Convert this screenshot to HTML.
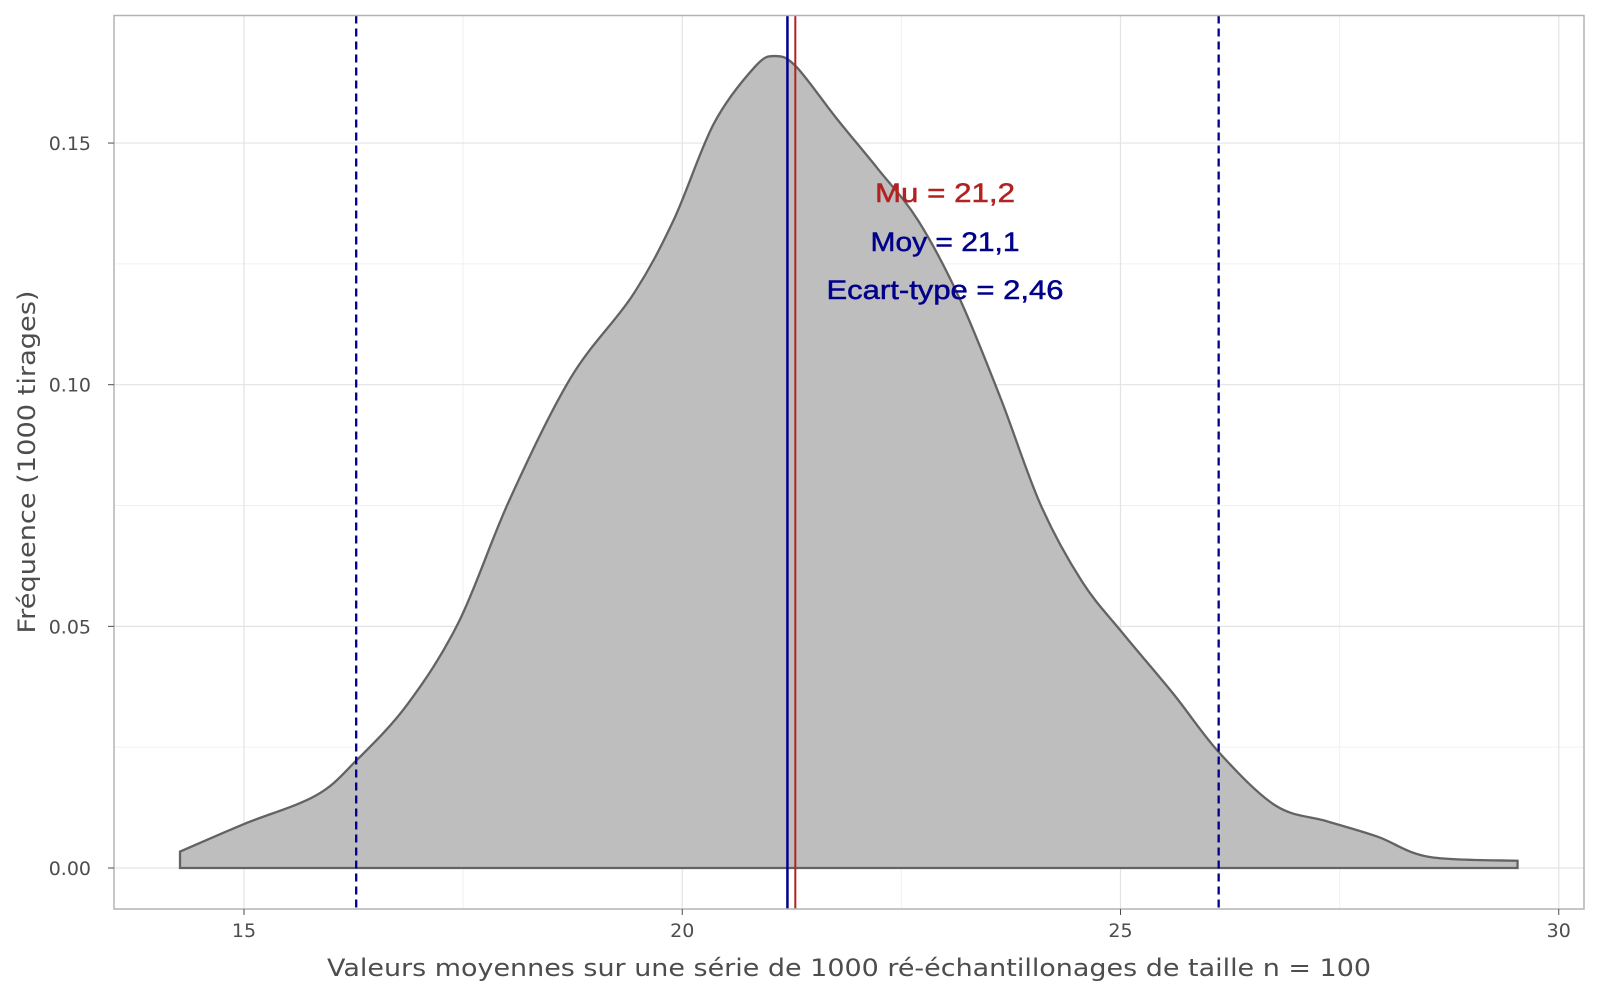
<!DOCTYPE html>
<html><head><meta charset="utf-8"><style>
body{margin:0;background:#fff;}
svg text{font-family:"DejaVu Sans","Liberation Sans",sans-serif;}
</style></head><body>
<svg id="chart" width="1600" height="1000" xmlns="http://www.w3.org/2000/svg">
<rect width="1600" height="1000" fill="#fff"/>
<g id="grid"></g>
<g id="marks"></g>
<g id="axes"></g>
</svg>
<script>
const xs=[14.27,15,15.82,16.29,16.87,17.45,18.03,18.73,19.43,19.9,20.36,20.83,21.06,21.3,21.76,22.23,22.69,23.16,23.63,24.09,24.56,25.02,25.6,26.13,26.77,27.35,27.93,28.52,29.53];
const ys=[0.0034,0.0091,0.015,0.0224,0.034,0.0509,0.0762,0.1015,0.1184,0.134,0.154,0.1658,0.168,0.1658,0.1551,0.1447,0.134,0.118,0.0973,0.0751,0.0593,0.0487,0.0361,0.0238,0.0129,0.0097,0.0065,0.0023,0.0015];
const xTicks=[15,20,25,30];
const yTicks=[0,0.05,0.10,0.15];
const yTickLabels=["0.00","0.05","0.10","0.15"];
const ciLines=[16.28,26.12];
const meanLine=[21.2];
const muLine=[21.29];
const labels=["Mu = 21,2","Moy = 21,1","Ecart-type = 2,46"];
const X=v=>244+(v-15)*87.65, Y=v=>868-v*4833;
const NS="http://www.w3.org/2000/svg";
function el(p,t,a){const e=document.createElementNS(NS,t);for(const k in a)e.setAttribute(k,a[k]);p.appendChild(e);return e;}
const grid=document.getElementById('grid'),marks=document.getElementById('marks'),axes=document.getElementById('axes');
const L=114,R=1584,T=15.5,B=909;
[17.5,22.5,27.5].forEach(v=>el(grid,'line',{x1:X(v),x2:X(v),y1:T,y2:B,stroke:'#f0f0f0','stroke-width':1}));
[0.025,0.075,0.125].forEach(v=>el(grid,'line',{x1:L,x2:R,y1:Y(v),y2:Y(v),stroke:'#f0f0f0','stroke-width':1}));
xTicks.forEach(v=>{const g=el(grid,'line',{x1:X(v),x2:X(v),y1:T,y2:B,stroke:'#e3e3e3','stroke-width':1.2});
});
yTicks.forEach(v=>{const g=el(grid,'line',{x1:L,x2:R,y1:Y(v),y2:Y(v),stroke:'#e3e3e3','stroke-width':1.2});
});
const P=xs.map((x,i)=>[X(x),Y(ys[i])]);
let d=`M${X(xs[0])},${Y(0)} L${P[0][0]},${P[0][1]}`;
for(let i=0;i<P.length-1;i++){const p0=P[Math.max(0,i-1)],p1=P[i],p2=P[i+1],p3=P[Math.min(P.length-1,i+2)];
d+=` C${p1[0]+(p2[0]-p0[0])/6},${p1[1]+(p2[1]-p0[1])/6} ${p2[0]-(p3[0]-p1[0])/6},${p2[1]-(p3[1]-p1[1])/6} ${p2[0]},${p2[1]}`;}
d+=` L${X(xs[xs.length-1])},${Y(0)} Z`;
const area=el(marks,'path',{d:d,fill:'#bebebe',stroke:'#636363','stroke-width':2.3});


ciLines.forEach(v=>{const l=el(marks,'line',{x1:X(v),x2:X(v),y1:T,y2:B,stroke:'#00008b','stroke-width':2.3,'stroke-dasharray':'8,5'});
});
meanLine.forEach(v=>{const l=el(marks,'line',{x1:X(v),x2:X(v),y1:T,y2:B,stroke:'#00008b','stroke-width':2.5});
});
muLine.forEach(v=>{const l=el(marks,'line',{x1:X(v),x2:X(v),y1:T,y2:B,stroke:'#b22222','stroke-width':2});
});
const cols=['#b22222','#00008b','#00008b'],ly=[202,251,299],lw=[140,149,237];
labels.forEach((s,i)=>{const t=el(marks,'text',{x:945,y:ly[i],'text-anchor':'middle','font-size':27,fill:cols[i],stroke:cols[i],'stroke-width':0.5,textLength:lw[i],lengthAdjust:'spacingAndGlyphs',style:'font-family:"Liberation Sans",sans-serif'});t.textContent=s;
});
el(axes,'rect',{x:L,y:T,width:R-L,height:B-T,fill:'none',stroke:'#b3b3b3','stroke-width':1.5});
xTicks.forEach(v=>{el(axes,'line',{x1:X(v),x2:X(v),y1:B,y2:B+6,stroke:'#4d4d4d','stroke-width':1});
const t=el(axes,'text',{x:X(v),y:937,'text-anchor':'middle','font-size':19,fill:'#4d4d4d'});t.textContent=v;
});
yTicks.forEach((v,i)=>{el(axes,'line',{x1:L-6,x2:L,y1:Y(v),y2:Y(v),stroke:'#4d4d4d','stroke-width':1});
const t=el(axes,'text',{x:91,y:Y(v)+7,'text-anchor':'end','font-size':19,fill:'#4d4d4d'});t.textContent=yTickLabels[i];
});
const xt=el(axes,'text',{x:849,y:976,'text-anchor':'middle','font-size':24,fill:'#4d4d4d',textLength:1044,lengthAdjust:'spacingAndGlyphs'});xt.textContent='Valeurs moyennes sur une série de 1000 ré-échantillonages de taille n = 100';

const yt=el(axes,'text',{x:0,y:0,'text-anchor':'middle','font-size':24,fill:'#4d4d4d',textLength:343,lengthAdjust:'spacingAndGlyphs',transform:'translate(35,462) rotate(-90)'});yt.textContent='Fréquence (1000 tirages)';

</script>
</body></html>
